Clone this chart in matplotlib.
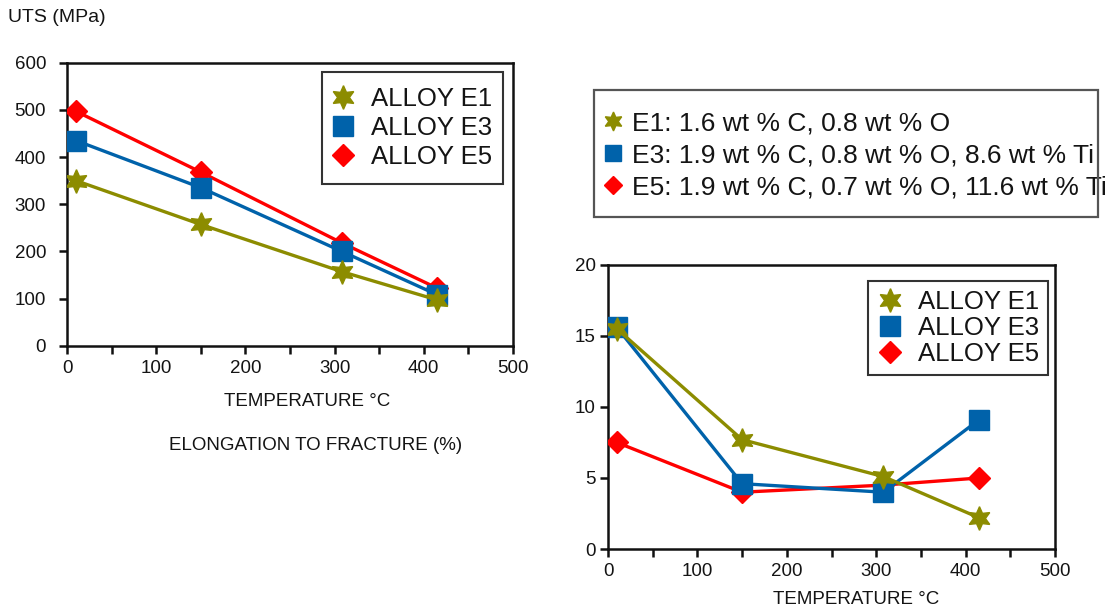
import matplotlib.pyplot as plt
from matplotlib.lines import Line2D
from matplotlib.patches import Rectangle
from matplotlib.ticker import MultipleLocator

plt.rcParams['font.family'] = ['Liberation Sans', 'DejaVu Sans']

# temperatures (deg C) of the test points
temp = [10, 150, 308, 415]

# UTS (MPa)
uts_e1 = [350, 257, 157, 97]
uts_e3 = [435, 335, 200, 108]
uts_e5 = [497, 368, 218, 122]

# elongation to fracture (%)
el_e1 = [15.5, 7.7, 5.1, 2.2]
el_e3 = [15.6, 4.6, 4.0, 9.1]
el_e5 = [7.5, 4.0, 4.5, 5.0]

names = ['ALLOY E1', 'ALLOY E3', 'ALLOY E5']
compositions = ['E1: 1.6 wt % C, 0.8 wt % O',
                'E3: 1.9 wt % C, 0.8 wt % O, 8.6 wt % Ti',
                'E5: 1.9 wt % C, 0.7 wt % O, 11.6 wt % Ti']

olive = '#8c8c00'
blue = '#0062aa'
red = '#ff0000'
txt = '#141414'

styles = [dict(color=olive, marker=(6, 1, 0), ms=17, zorder=5),
          dict(color=blue, marker='s', ms=15, zorder=4),
          dict(color=red, marker='D', ms=11, zorder=3)]

W, H = 1115, 610
fig = plt.figure(figsize=(11.15, 6.10), dpi=100)
ax1 = fig.add_axes([0.0601, 0.4333, 0.4, 0.4639])
ax2 = fig.add_axes([0.5453, 0.1, 0.4009, 0.4656])


def style_axes(ax, ymax, ystep, ypad):
    ax.set_xlim(0, 500)
    ax.set_ylim(0, ymax)
    ax.xaxis.set_major_locator(MultipleLocator(100))
    ax.xaxis.set_minor_locator(MultipleLocator(50))
    ax.yaxis.set_major_locator(MultipleLocator(ystep))
    for s in ax.spines.values():
        s.set_linewidth(1.8)
        s.set_color('#111111')
    ax.tick_params(which='both', direction='out', length=6, width=1.8,
                   color='#111111', top=False, right=False)
    ax.tick_params(axis='x', which='major', labelsize=13.5, pad=4, labelcolor=txt)
    ax.tick_params(axis='y', which='major', labelsize=13.5, pad=ypad, labelcolor=txt)


def box(x0, y0, x1, y1, color):
    # frame in pixel coords of the 1115x610 picture (y from the top)
    fig.patches.append(Rectangle((x0 / W, 1 - y1 / H), (x1 - x0) / W, (y1 - y0) / H,
                                 transform=fig.transFigure, fill=False,
                                 edgecolor=color, lw=1.6, zorder=10))


for ys, st, nm in zip([uts_e1, uts_e3, uts_e5], styles, names):
    ax1.plot(temp, ys, lw=2.4, label=nm, **st)
for ys, st, nm in zip([el_e1, el_e3, el_e5], styles, names):
    ax2.plot(temp, ys, lw=2.4, label=nm, **st)

style_axes(ax1, 600, 100, 9)
style_axes(ax2, 20, 5, 3)

# left legend: white box + frameless legend
ax1.add_patch(Rectangle((322 / W, 1 - 184 / H), 181 / W, 112 / H,
                        transform=fig.transFigure, facecolor='white',
                        edgecolor='#333333', lw=1.5, zorder=8))
leg1 = ax1.legend(loc='upper left', bbox_to_anchor=(330 / W, 1 - 87 / H),
                  bbox_transform=fig.transFigure, frameon=False, fontsize=18.5,
                  handlelength=1.0, handletextpad=0.6, labelspacing=0.2,
                  borderpad=0, borderaxespad=0)
leg1.set_zorder(9)

leg2 = ax2.legend(loc='upper right', bbox_to_anchor=(0.985, 0.945), fontsize=18.5,
                  fancybox=False, framealpha=1, edgecolor='#333333',
                  handlelength=1.0, handletextpad=0.6, labelspacing=0.08,
                  borderpad=0.35, borderaxespad=0)
leg2.get_frame().set_linewidth(1.5)

for leg in (leg1, leg2):
    for t in leg.get_texts():
        t.set_color(txt)
    for h in leg.get_lines():
        h.set_linestyle('none')

# composition key, drawn as a box with a frameless legend inside
box(594, 90, 1098, 217, '#555555')
handles = [Line2D([], [], linestyle='none', color=st['color'], marker=st['marker'],
                  ms=st['ms'] * 0.8) for st in styles]
leg3 = fig.legend(handles, compositions, loc='upper left',
                  bbox_to_anchor=(604 / W, 1 - 111 / H), frameon=False,
                  fontsize=19, handlelength=0.7, handletextpad=0.35,
                  labelspacing=0.31, borderpad=0, borderaxespad=0)
for t in leg3.get_texts():
    t.set_color(txt)

fig.text(8 / W, 1 - 18 / H, 'UTS (MPa)', fontsize=14, color=txt,
         ha='left', va='center')
fig.text(307 / W, 1 - 402 / H, 'TEMPERATURE °C', fontsize=13.5, color=txt,
         ha='center', va='center')
fig.text(316 / W, 1 - 446 / H, 'ELONGATION TO FRACTURE (%)', fontsize=13.5,
         color=txt, ha='center', va='center')
fig.text(856 / W, 1 - 600 / H, 'TEMPERATURE °C', fontsize=13.5, color=txt,
         ha='center', va='center')

fig.savefig('out.png', dpi=100)
